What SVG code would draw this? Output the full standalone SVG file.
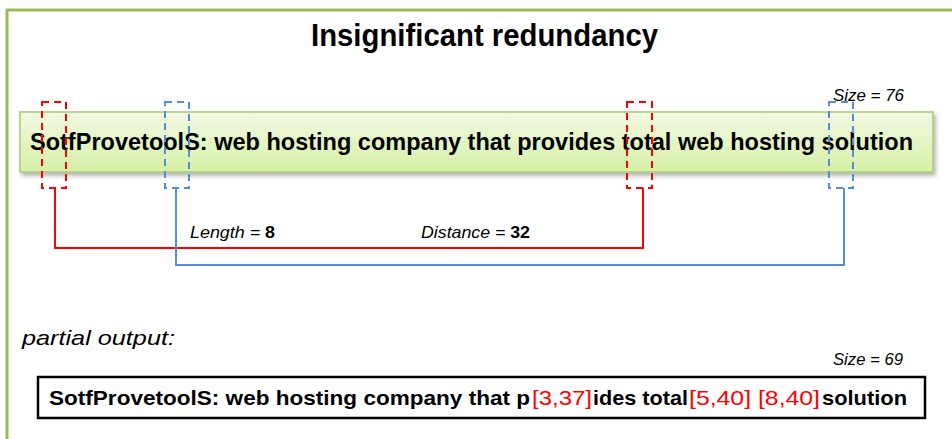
<svg xmlns="http://www.w3.org/2000/svg" width="952" height="439" viewBox="0 0 952 439">
<defs>
<linearGradient id="g" x1="0" y1="0" x2="0" y2="1">
<stop offset="0" stop-color="#f2f9e4"/>
<stop offset="1" stop-color="#d6f0a6"/>
</linearGradient>
<filter id="sh" x="-5%" y="-20%" width="110%" height="160%">
<feDropShadow dx="2" dy="3" stdDeviation="2" flood-color="#000" flood-opacity="0.3"/>
</filter>
<style>
.frame{fill:none;stroke:#9bbb59;stroke-width:3}
.t{font-family:"Liberation Sans",Arial,sans-serif;fill:#000}
.b{font-weight:bold}
.i{font-style:italic}
.red{fill:#ff0000;font-weight:normal}
.dr{fill:none;stroke:#ff0000;stroke-width:2;stroke-dasharray:7 5}
.db{fill:none;stroke:#558ed5;stroke-width:2;stroke-dasharray:7 5}
.lr{fill:none;stroke:#ff0000;stroke-width:2}
.lb{fill:none;stroke:#558ed5;stroke-width:2}
</style>
</defs>
<rect width="952" height="439" fill="#fff"/>
<polyline class="frame" points="7,439 7,10 952,10"/>
<g id="title"><text class="t b" x="311" y="46" font-size="31" textLength="347" lengthAdjust="spacingAndGlyphs">Insignificant redundancy</text></g>
<g id="size76"><text class="t i" x="833" y="101" font-size="16" fill="#333" textLength="71" lengthAdjust="spacingAndGlyphs">Size = 76</text></g>
<g id="input">
<rect x="20" y="112" width="913" height="60" fill="url(#g)" stroke="#a9c97a" stroke-width="1.5" filter="url(#sh)"/>
<text class="t b" x="30" y="150" font-size="24" textLength="883" lengthAdjust="spacingAndGlyphs">SotfProvetoolS: web hosting company that provides total web hosting solution</text>
</g>
<g id="markers">
<rect class="dr" x="42" y="102" width="24" height="86"/>
<rect class="dr" x="627" y="102" width="25" height="86"/>
<rect class="db" x="165" y="102" width="24" height="86"/>
<rect class="db" x="829" y="102" width="24" height="86"/>
</g>
<g id="connectors">
<polyline class="lr" points="55,188 55,248 643,248 643,188"/>
<polyline class="lb" points="176,188 176,265 844,265 844,188"/>
</g>
<g id="labels">
<text class="t" x="190" y="238" font-size="17" textLength="85" lengthAdjust="spacingAndGlyphs"><tspan class="i">Length = </tspan><tspan class="b">8</tspan></text>
<text class="t" x="421" y="238" font-size="17" textLength="109" lengthAdjust="spacingAndGlyphs"><tspan class="i">Distance = </tspan><tspan class="b">32</tspan></text>
</g>
<g id="partial"><text class="t i" x="22" y="345" font-size="21" fill="#222" textLength="153" lengthAdjust="spacingAndGlyphs">partial output:</text></g>
<g id="size69"><text class="t i" x="833" y="365" font-size="16" fill="#333" textLength="70" lengthAdjust="spacingAndGlyphs">Size = 69</text></g>
<g id="output">
<rect x="38" y="377" width="887" height="41" fill="#fff" stroke="#000" stroke-width="2.5"/>
<text class="t b" y="405" font-size="21"><tspan x="49" textLength="481" lengthAdjust="spacingAndGlyphs">SotfProvetoolS: web hosting company that p</tspan><tspan class="red" x="532" textLength="60" lengthAdjust="spacingAndGlyphs">[3,37]</tspan><tspan x="593" textLength="95" lengthAdjust="spacingAndGlyphs">ides total</tspan><tspan class="red" x="689" textLength="131" lengthAdjust="spacingAndGlyphs">[5,40] [8,40]</tspan><tspan x="822" textLength="85" lengthAdjust="spacingAndGlyphs">solution</tspan></text>
</g>
</svg>
